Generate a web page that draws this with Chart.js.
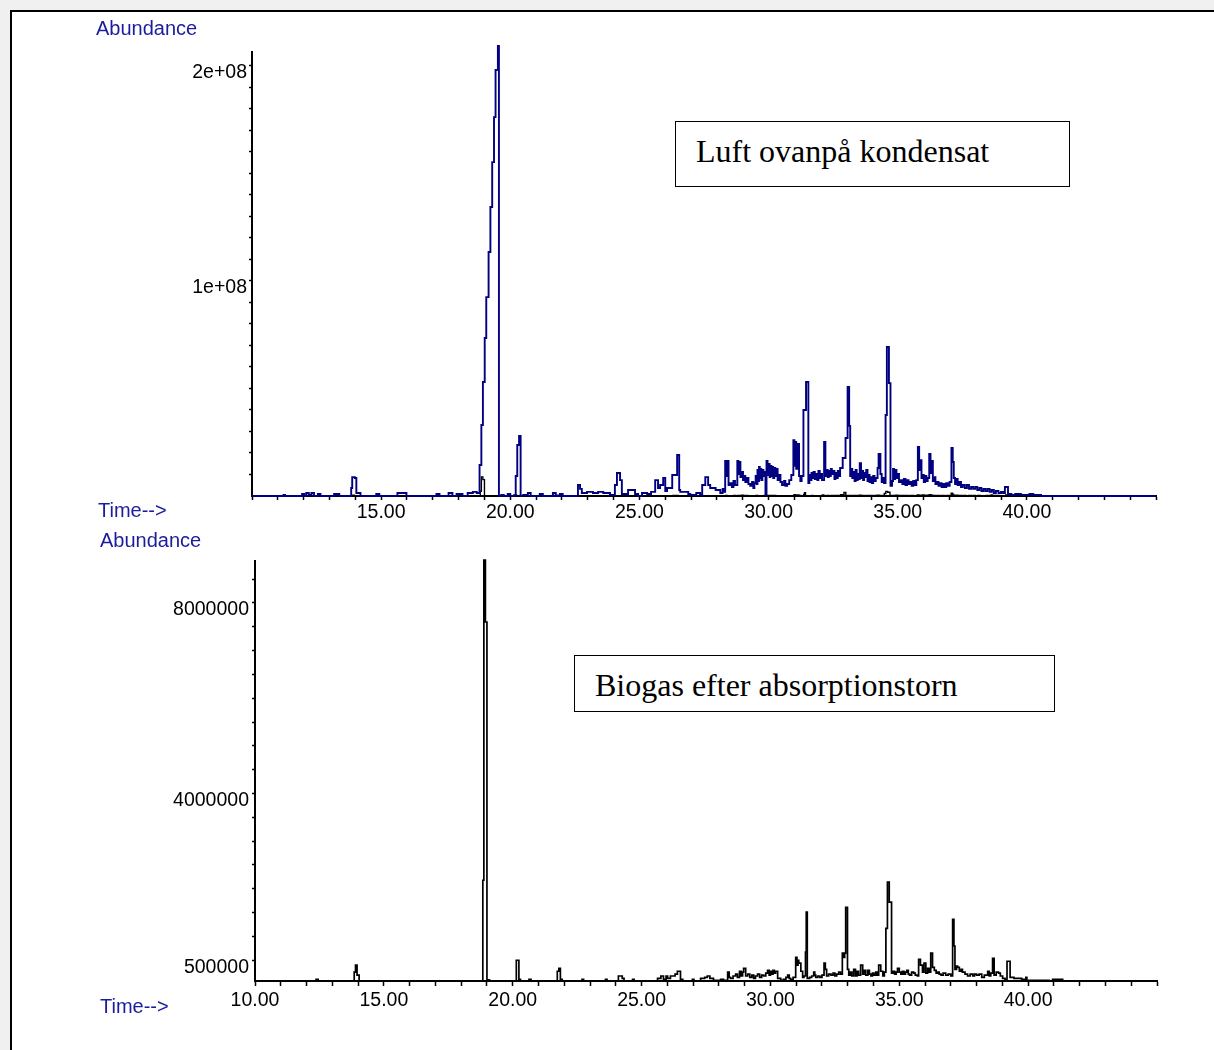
<!DOCTYPE html>
<html>
<head>
<meta charset="utf-8">
<title>Kromatogram</title>
<script src="https://cdn.jsdelivr.net/npm/chart.js@4.4.0/dist/chart.umd.min.js"></script>
<style>
  html, body { margin: 0; padding: 0; }
  body {
    width: 1214px; height: 1050px; position: relative; overflow: hidden;
    background: #f0f0f0;
    font-family: "Liberation Sans", Arial, sans-serif;
  }
  #ram {
    position: absolute; left: 10px; top: 10px; width: 1230px; height: 1070px;
    background: #fff; border-left: 2px solid #000; border-top: 2px solid #000;
  }
  canvas { position: absolute; left: 0; }
  #luft { top: 0; }
  #biogas { top: 525px; }
  .axel { position: absolute; color: #1c1c9c; font-size: 20px; line-height: 20px; white-space: nowrap; }
  .ruta {
    position: absolute; box-sizing: border-box; border: 1.5px solid #000; background: #fff;
    font-family: "Liberation Serif", "Times New Roman", serif; font-size: 32px; line-height: 31px;
    color: #000; padding: 13.5px 0 0 20px; white-space: nowrap;
  }
</style>
</head>
<body>
<div id="ram"></div>
<canvas id="luft" width="1214" height="525"></canvas>
<canvas id="biogas" width="1214" height="525"></canvas>

<div class="axel" style="left:96px; top:18px;">Abundance</div>
<div class="axel" style="left:98px; top:500px;">Time--&gt;</div>
<div class="axel" style="left:100px; top:530px;">Abundance</div>
<div class="axel" style="left:100px; top:996px;">Time--&gt;</div>

<div class="ruta" style="left:675px; top:121px; width:395px; height:66px;">Luft ovanpå kondensat</div>
<div class="ruta" style="left:574px; top:655px; width:481px; height:57px;">Biogas efter absorptionstorn</div>

<script>
// retentionstid (min) och abundans, [tid, abundans] - värdet gäller fram till nästa punkt
const luftTrace = [
  [10.00, 0],
  [11.22, 0.5e6], [11.28, 0],
  [11.94, 0.9e6], [12.02, 0], [12.10, 1.4e6], [12.20, 0.5e6], [12.30, 1.4e6], [12.40, 0], [12.55, 0.9e6], [12.65, 0],
  [13.18, 0.9e6], [13.38, 0],
  [13.84, 3.7e6], [13.88, 8.8e6], [13.98, 8.4e6], [14.04, 1.4e6], [14.20, 0],
  [14.81, 0.9e6], [14.93, 0],
  [15.63, 1.4e6], [15.98, 0],
  [17.14, 0.9e6], [17.26, 0],
  [17.61, 1.4e6], [17.76, 0], [17.92, 0.9e6], [18.15, 0],
  [18.35, 1.4e6], [18.55, 1.9e6], [18.70, 1.4e6],
  [18.81, 14.4e6], [18.88, 33.0e6], [18.94, 53.0e6], [19.01, 73.5e6], [19.07, 92.5e6], [19.16, 113.5e6],
  [19.23, 134.4e6], [19.30, 155.3e6], [19.37, 176.2e6], [19.43, 198.1e6], [19.52, 209.3e6], [19.56, 0],
  [19.65, 0.5e6], [19.75, 0], [19.90, 0.9e6], [20.00, 0],
  [20.21, 9.3e6], [20.27, 23.7e6], [20.34, 27.9e6], [20.40, 0],
  [20.50, 0.5e6], [20.68, 1.4e6], [20.79, 0], [21.14, 0.9e6], [21.26, 0], [21.65, 1.4e6], [21.76, 0], [21.92, 0.9e6], [22.03, 0],
  [22.62, 5.1e6], [22.70, 3.3e6], [22.77, 1.4e6], [22.97, 1.9e6], [23.20, 1.4e6], [23.40, 1.9e6], [23.60, 1.4e6], [23.86, 0.5e6],
  [24.05, 5.1e6], [24.13, 10.7e6], [24.25, 7.4e6], [24.32, 0.9e6],
  [24.56, 2.8e6], [24.83, 0.9e6], [24.95, 0], [25.10, 1.4e6], [25.30, 0.9e6], [25.45, 1.9e6],
  [25.61, 7.4e6], [25.72, 3.7e6], [25.80, 5.1e6], [25.92, 8.4e6], [26.00, 2.3e6], [26.07, 3.7e6],
  [26.27, 9.8e6], [26.46, 19.1e6], [26.54, 2.8e6], [26.58, 1.9e6], [26.89, 0.9e6], [26.97, 0.5e6], [27.20, 1.4e6], [27.35, 0.5e6],
  [27.43, 5.1e6], [27.55, 8.8e6], [27.66, 5.1e6], [27.74, 3.7e6], [27.95, 2.8e6], [28.13, 1.4e6],
  [28.22, 3.3e6], [28.28, 1.9e6],
  [28.32, 16.3e6], [28.37, 9.3e6], [28.41, 16.3e6], [28.45, 5.1e6], [28.52, 6.0e6], [28.58, 4.2e6], [28.64, 7.0e6], [28.70, 5.1e6],
  [28.79, 16.3e6], [28.83, 10.2e6], [28.87, 15.8e6], [28.91, 8.8e6], [28.96, 11.2e6], [29.01, 7.4e6], [29.06, 9.3e6],
  [29.10, 6.5e6], [29.16, 8.4e6], [29.22, 5.6e6], [29.29, 4.7e6], [29.36, 6.5e6], [29.41, 3.7e6],
  [29.45, 6.0e6], [29.50, 9.3e6], [29.54, 5.6e6], [29.57, 12.1e6], [29.60, 7.0e6], [29.63, 13.5e6], [29.66, 8.4e6],
  [29.69, 12.6e6], [29.72, 7.4e6], [29.76, 12.1e6], [29.80, 9.3e6], [29.84, 11.2e6], [29.88, 0.5e6],
  [29.92, 16.3e6], [29.96, 9.8e6], [30.00, 14.9e6], [30.04, 8.8e6], [30.07, 14.0e6], [30.11, 9.3e6], [30.15, 13.5e6],
  [30.18, 8.4e6], [30.22, 13.0e6], [30.26, 9.3e6], [30.30, 12.6e6], [30.35, 7.4e6], [30.40, 9.8e6], [30.46, 6.5e6],
  [30.52, 5.1e6], [30.60, 7.0e6], [30.65, 4.7e6], [30.72, 5.6e6], [30.80, 7.4e6], [30.88, 9.8e6],
  [30.96, 26.0e6], [31.00, 14.0e6], [31.03, 25.1e6], [31.07, 12.6e6], [31.12, 24.2e6], [31.18, 9.3e6], [31.23, 7.0e6], [31.28, 9.3e6],
  [31.35, 40.0e6], [31.45, 53.0e6], [31.54, 6.0e6], [31.58, 9.8e6], [31.62, 7.4e6], [31.66, 10.7e6], [31.70, 8.4e6],
  [31.74, 11.2e6], [31.79, 7.9e6], [31.85, 10.2e6], [31.89, 7.4e6], [31.93, 11.6e6], [31.98, 8.4e6], [32.02, 10.2e6], [32.07, 7.4e6],
  [32.15, 25.1e6], [32.20, 9.3e6], [32.25, 12.1e6], [32.29, 8.8e6], [32.33, 11.6e6], [32.37, 9.3e6], [32.41, 12.6e6],
  [32.45, 10.2e6], [32.50, 11.6e6], [32.55, 7.9e6], [32.59, 10.7e6], [32.64, 8.4e6], [32.68, 11.6e6], [32.72, 9.3e6], [32.77, 13.0e6],
  [32.87, 17.7e6], [32.98, 27.0e6], [33.06, 50.7e6], [33.12, 32.6e6], [33.16, 9.3e6], [33.20, 12.6e6], [33.24, 8.4e6],
  [33.28, 11.2e6], [33.33, 7.0e6], [33.37, 12.1e6], [33.41, 7.4e6], [33.45, 10.2e6], [33.49, 7.9e6], [33.53, 15.3e6],
  [33.58, 8.4e6], [33.62, 11.6e6], [33.66, 7.4e6], [33.70, 10.7e6], [33.74, 8.8e6], [33.78, 12.1e6], [33.83, 7.0e6],
  [33.87, 9.8e6], [33.91, 6.5e6], [33.96, 8.8e6], [34.00, 6.0e6], [34.05, 9.3e6], [34.10, 7.0e6], [34.15, 8.4e6],
  [34.22, 13.0e6], [34.26, 19.5e6], [34.33, 10.2e6], [34.38, 6.5e6], [34.42, 8.4e6], [34.47, 6.0e6],
  [34.53, 37.7e6], [34.58, 69.3e6], [34.66, 52.5e6], [34.72, 4.7e6], [34.78, 7.0e6], [34.82, 12.6e6], [34.86, 7.9e6],
  [34.90, 12.1e6], [34.95, 8.4e6], [35.00, 10.2e6], [35.05, 6.5e6], [35.12, 7.4e6], [35.18, 5.6e6], [35.24, 7.9e6],
  [35.30, 5.1e6], [35.36, 7.4e6], [35.42, 5.6e6], [35.48, 6.5e6], [35.54, 4.7e6], [35.60, 7.0e6], [35.66, 5.1e6], [35.72, 7.4e6],
  [35.78, 22.8e6], [35.83, 12.1e6], [35.87, 16.7e6], [35.92, 8.4e6], [35.96, 9.8e6], [36.01, 6.5e6], [36.06, 9.3e6],
  [36.11, 7.0e6], [36.16, 8.4e6],
  [36.22, 19.5e6], [36.27, 10.7e6], [36.31, 16.3e6], [36.36, 7.0e6], [36.41, 8.8e6], [36.46, 5.6e6], [36.52, 6.5e6],
  [36.58, 4.7e6], [36.64, 6.0e6], [36.70, 4.2e6], [36.76, 5.6e6], [36.82, 4.2e6], [36.88, 6.0e6], [36.95, 4.7e6], [37.01, 6.5e6],
  [37.08, 22.3e6], [37.13, 15.8e6], [37.17, 8.4e6], [37.22, 5.6e6], [37.27, 7.9e6], [37.32, 5.1e6], [37.38, 6.5e6],
  [37.45, 4.2e6], [37.52, 5.1e6], [37.60, 3.7e6], [37.68, 5.1e6], [37.76, 3.3e6], [37.84, 4.2e6], [37.92, 3.3e6],
  [38.00, 4.2e6], [38.08, 2.8e6], [38.16, 3.7e6], [38.24, 2.3e6], [38.32, 3.3e6], [38.40, 2.3e6], [38.48, 3.3e6],
  [38.56, 1.9e6], [38.64, 2.8e6], [38.72, 1.4e6], [38.80, 2.3e6], [38.90, 1.4e6], [39.00, 1.9e6], [39.08, 1.4e6],
  [39.15, 4.2e6], [39.27, 0.9e6], [39.40, 0.5e6], [39.55, 0.9e6], [39.77, 0.5e6], [40.10, 0.9e6], [40.25, 0.5e6],
  [40.55, 0], [45.00, 0]
];

const biogasTrace = [
  [10.00, 0.065e6],
  [12.37, 0.10e6], [12.45, 0.065e6],
  [13.85, 0.25e6], [13.90, 0.40e6], [13.96, 0.19e6], [14.04, 0.065e6],
  [18.84, 2.18e6], [18.88, 8.90e6], [18.94, 7.60e6], [19.00, 0.065e6], [19.05, 0.09e6], [19.10, 0.065e6],
  [20.14, 0.50e6], [20.24, 0.10e6], [20.30, 0.065e6],
  [20.63, 0.10e6], [20.71, 0.065e6],
  [21.73, 0.27e6], [21.79, 0.33e6], [21.85, 0.10e6], [21.92, 0.065e6],
  [22.69, 0.10e6], [22.75, 0.065e6],
  [23.60, 0.10e6], [23.66, 0.065e6],
  [24.10, 0.17e6], [24.25, 0.12e6], [24.32, 0.065e6],
  [24.65, 0.10e6], [24.71, 0.065e6],
  [25.62, 0.12e6], [25.75, 0.17e6], [25.85, 0.10e6], [25.95, 0.17e6], [26.01, 0.12e6], [26.12, 0.17e6],
  [26.30, 0.21e6], [26.39, 0.27e6], [26.51, 0.10e6], [26.60, 0.065e6],
  [26.97, 0.10e6], [27.03, 0.065e6],
  [27.29, 0.12e6], [27.45, 0.14e6], [27.55, 0.17e6], [27.65, 0.12e6], [27.79, 0.08e6], [28.07, 0.10e6], [28.18, 0.08e6],
  [28.34, 0.25e6], [28.40, 0.14e6], [28.45, 0.12e6], [28.55, 0.17e6], [28.65, 0.21e6], [28.72, 0.14e6], [28.80, 0.27e6],
  [28.86, 0.17e6], [28.92, 0.25e6], [28.96, 0.33e6], [29.04, 0.17e6], [29.12, 0.21e6], [29.20, 0.14e6], [29.28, 0.19e6],
  [29.35, 0.12e6], [29.42, 0.17e6], [29.50, 0.21e6], [29.58, 0.14e6], [29.66, 0.19e6], [29.74, 0.17e6], [29.82, 0.23e6],
  [29.89, 0.29e6], [29.95, 0.19e6], [30.00, 0.27e6], [30.05, 0.21e6], [30.10, 0.29e6], [30.15, 0.23e6], [30.20, 0.27e6],
  [30.28, 0.12e6], [30.40, 0.08e6], [30.50, 0.10e6], [30.60, 0.14e6], [30.67, 0.19e6], [30.73, 0.12e6], [30.78, 0.10e6], [30.88, 0.14e6],
  [30.98, 0.56e6], [31.03, 0.40e6], [31.07, 0.50e6], [31.10, 0.44e6], [31.18, 0.27e6], [31.25, 0.14e6], [31.30, 0.17e6],
  [31.36, 0.67e6], [31.39, 1.51e6], [31.43, 0.12e6], [31.52, 0.14e6], [31.60, 0.17e6], [31.68, 0.25e6], [31.72, 0.19e6],
  [31.76, 0.14e6], [31.84, 0.17e6], [31.92, 0.14e6], [32.00, 0.19e6], [32.08, 0.44e6], [32.13, 0.31e6], [32.18, 0.17e6],
  [32.26, 0.21e6], [32.35, 0.19e6], [32.43, 0.23e6], [32.50, 0.17e6], [32.57, 0.21e6], [32.65, 0.25e6], [32.72, 0.21e6],
  [32.79, 0.65e6], [32.84, 0.56e6], [32.88, 0.65e6], [32.92, 1.61e6], [32.99, 0.31e6], [33.04, 0.19e6], [33.10, 0.25e6],
  [33.16, 0.17e6], [33.23, 0.31e6], [33.30, 0.17e6], [33.36, 0.27e6], [33.42, 0.19e6], [33.50, 0.40e6], [33.58, 0.21e6],
  [33.64, 0.29e6], [33.70, 0.19e6], [33.78, 0.29e6], [33.84, 0.21e6], [33.90, 0.17e6], [33.96, 0.23e6], [34.02, 0.19e6],
  [34.09, 0.25e6], [34.15, 0.19e6], [34.20, 0.40e6], [34.28, 0.27e6], [34.36, 0.17e6], [34.42, 0.25e6],
  [34.48, 1.17e6], [34.54, 2.14e6], [34.61, 1.72e6], [34.70, 0.23e6], [34.76, 0.27e6], [34.82, 0.21e6], [34.88, 0.25e6],
  [34.93, 0.33e6], [35.00, 0.25e6], [35.06, 0.21e6], [35.12, 0.27e6], [35.18, 0.21e6], [35.24, 0.25e6], [35.29, 0.29e6],
  [35.35, 0.21e6], [35.40, 0.19e6], [35.48, 0.25e6], [35.56, 0.23e6], [35.62, 0.19e6], [35.70, 0.17e6],
  [35.75, 0.52e6], [35.82, 0.40e6], [35.90, 0.25e6], [35.96, 0.44e6], [36.03, 0.23e6], [36.10, 0.33e6], [36.16, 0.25e6],
  [36.22, 0.65e6], [36.29, 0.35e6], [36.36, 0.29e6], [36.43, 0.23e6], [36.50, 0.25e6], [36.55, 0.21e6], [36.62, 0.19e6],
  [36.70, 0.23e6], [36.80, 0.19e6], [36.90, 0.21e6], [37.00, 0.17e6],
  [37.07, 1.36e6], [37.12, 0.80e6], [37.16, 0.31e6], [37.22, 0.38e6], [37.26, 0.35e6], [37.33, 0.27e6], [37.40, 0.31e6],
  [37.45, 0.25e6], [37.55, 0.21e6], [37.65, 0.17e6], [37.75, 0.21e6], [37.85, 0.17e6], [37.92, 0.21e6], [38.00, 0.19e6],
  [38.10, 0.21e6], [38.20, 0.14e6], [38.30, 0.19e6], [38.43, 0.27e6], [38.49, 0.17e6], [38.55, 0.23e6],
  [38.62, 0.54e6], [38.68, 0.19e6], [38.76, 0.25e6], [38.85, 0.23e6], [38.92, 0.17e6], [39.01, 0.12e6], [39.10, 0.10e6],
  [39.18, 0.48e6], [39.30, 0.14e6], [39.45, 0.12e6], [39.60, 0.12e6], [39.75, 0.10e6], [39.91, 0.14e6],
  [39.95, 0.08e6], [40.82, 0.065e6], [40.95, 0.10e6], [41.34, 0.065e6], [45.00, 0.065e6]
];

// axlar
const timeRange = [10, 45];
const timeLabels = [10, 15, 20, 25, 30, 35, 40];
const luftRange = [0, 2.065e8];
const luftYTicks = [1e8, 2e8];
const luftYLabels = ['1e+08', '2e+08'];
const luftYStep = 1e7;
const biogasRange = [0.065e6, 8.88e6];
const biogasYTicks = [5e5, 4e6, 8e6];
const biogasYLabels = ['500000', '4000000', '8000000'];
const biogasYStep = 5e5;

const tickFont = { family: '"Liberation Sans", Arial, sans-serif', size: 19.5 };

function stepTicks(from, to, step) {
  const out = [];
  for (let i = Math.round(from / step); i * step <= to + 1e-9; i++) out.push({ value: i * step });
  return out;
}

function trace(data, color, width) {
  return {
    data: data,
    borderColor: color,
    borderWidth: width,
    stepped: true,
    pointRadius: 0,
    pointHitRadius: 0,
    fill: false,
    clip: false
  };
}

function makeChart(id, datasets, o) {
  return new Chart(document.getElementById(id), {
    type: 'line',
    data: { datasets: datasets },
    options: {
      responsive: false,
      animation: false,
      events: [],
      layout: { padding: { top: o.padTop, right: o.padRight, left: 0, bottom: 0 } },
      plugins: { legend: { display: false }, tooltip: { enabled: false } },
      scales: {
        x: {
          type: 'linear',
          min: timeRange[0],
          max: timeRange[1],
          afterFit: s => { s.height = o.xHeight; },
          afterBuildTicks: s => { s.ticks = stepTicks(timeRange[0], timeRange[1], 1); },
          border: { color: '#000', width: 2 },
          grid: { drawOnChartArea: false, tickLength: o.xTick, tickColor: '#000', tickWidth: 1.5 },
          ticks: {
            autoSkip: false, maxRotation: 0, padding: o.xPad, color: '#000', font: tickFont,
            callback: v => (timeLabels.includes(v) && !(o.skipFirst && v === timeRange[0])) ? v.toFixed(2) : ''
          }
        },
        y: {
          type: 'linear',
          min: o.yRange[0],
          max: o.yRange[1],
          afterFit: s => { s.width = o.yWidth; },
          afterBuildTicks: s => { s.ticks = stepTicks(o.yStep, o.yRange[1], o.yStep); },
          border: { color: '#000', width: 2 },
          grid: { drawOnChartArea: false, tickLength: 3, tickColor: '#000', tickWidth: 1.5 },
          ticks: {
            autoSkip: false, padding: o.yPad, labelOffset: 7, color: '#000', font: tickFont,
            callback: v => {
              const i = o.yTicks.indexOf(v);
              return i >= 0 ? o.yLabels[i] : '';
            }
          }
        }
      }
    }
  });
}

// övre: luft ovanpå kondensat, med biogasprovet överlagt
makeChart('luft', [
  trace(luftTrace, '#000080', 1.9),
  trace(biogasTrace, '#000000', 1.4)
], {
  padTop: 52, padRight: 58, xHeight: 29, yWidth: 252, xTick: 4, xPad: 1, yPad: 2,
  skipFirst: true, yRange: luftRange, yStep: luftYStep, yTicks: luftYTicks, yLabels: luftYLabels
});

// nedre: biogas efter absorptionstorn
makeChart('biogas', [
  trace(biogasTrace, '#000000', 1.7)
], {
  padTop: 36, padRight: 57, xHeight: 69, yWidth: 255, xTick: 5, xPad: 3, yPad: 3,
  skipFirst: false, yRange: biogasRange, yStep: biogasYStep, yTicks: biogasYTicks, yLabels: biogasYLabels
});
</script>
</body>
</html>
